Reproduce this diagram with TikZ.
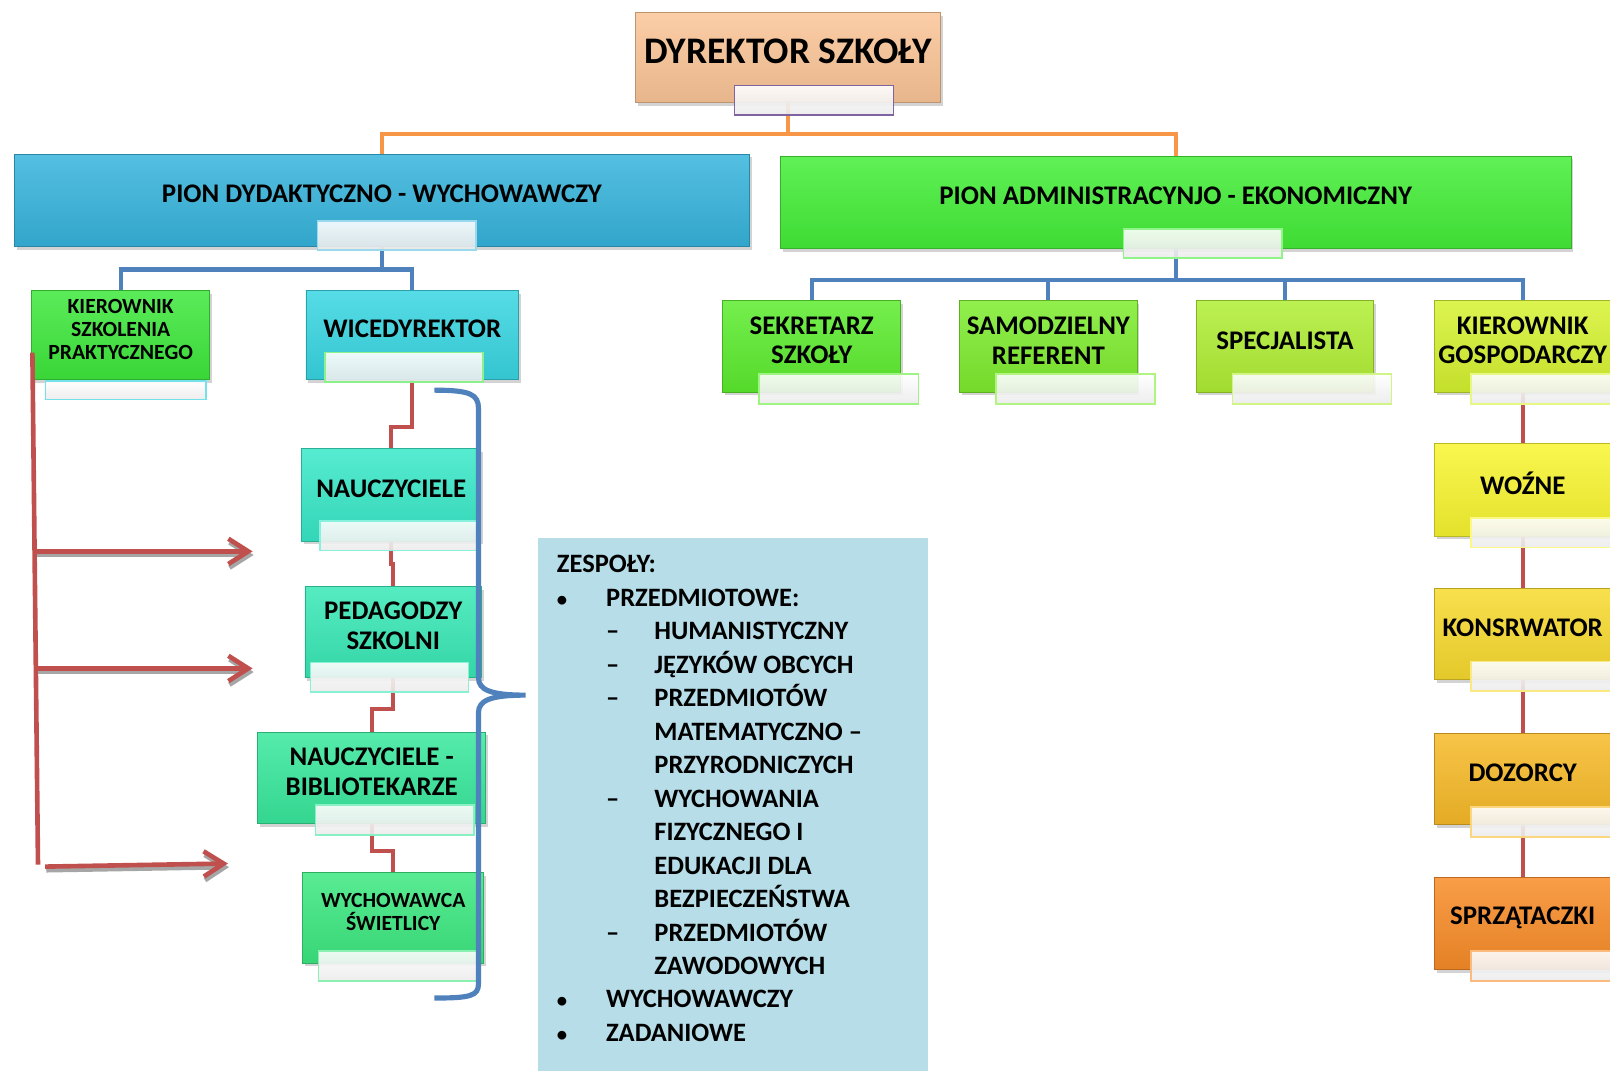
\documentclass[tikz,border=0pt]{standalone}
\usepackage{fontspec}
\setmainfont{Carlito}
\usetikzlibrary{positioning,shadows,backgrounds,arrows.meta}

\newlength\unitpx
\setlength\unitpx{0.02cm}

\definecolor{corange}{HTML}{F79646}
\definecolor{cblue}{HTML}{4F81BD}
\definecolor{cred}{HTML}{C0504D}
\definecolor{czesp}{HTML}{B7DDE8}
\definecolor{cpurple}{HTML}{8064A2}
\definecolor{cdyr}{HTML}{FBC597}
\definecolor{cpdw}{HTML}{36B4DC}
\definecolor{cpae}{HTML}{44EE38}
\definecolor{ckszk}{HTML}{3EE83C}
\definecolor{cwiced}{HTML}{38D6E2}
\definecolor{cnauc}{HTML}{38E8C8}
\definecolor{cpeda}{HTML}{38E8B6}
\definecolor{cbibl}{HTML}{38E89C}
\definecolor{cwych}{HTML}{3CE880}
\definecolor{csekr}{HTML}{5CEC2E}
\definecolor{csamo}{HTML}{7EEC2E}
\definecolor{cspec}{HTML}{B0EE34}
\definecolor{ckgos}{HTML}{D6F230}
\definecolor{cwozne}{HTML}{F8F530}
\definecolor{ckons}{HTML}{F7DA2E}
\definecolor{cdozo}{HTML}{F7BA28}
\definecolor{csprz}{HTML}{F88C28}

\begin{document}
\begin{tikzpicture}[x=0.02cm, y=-0.02cm,
    box/.style={rectangle, draw=#1!75!black, line width=0.5pt,
      top color=#1!85!white, bottom color=#1!92!black,
      drop shadow={opacity=0.35, shadow xshift=1.2pt, shadow yshift=-1.8pt},
      minimum width=173\unitpx, minimum height=89\unitpx, inner sep=0pt},
    tag/.style={rectangle, draw=#1, line width=0.9pt,
      top color=white, bottom color=black!8, fill opacity=0.9,
      minimum width=155\unitpx, minimum height=29\unitpx,
      anchor=north west, inner sep=0pt},
    lbl/.style={font=\bfseries\fontsize{14.9}{16.4}\selectfont,
      align=center, yshift=3.4pt},
    lblbig/.style={lbl, font=\bfseries\fontsize{20.8}{22}\selectfont},
    lblsmall/.style={lbl, font=\bfseries\fontsize{12}{12.8}\selectfont},
    link/.style={line width=4\unitpx},
    barb/.style={-{Straight Barb[length=11pt, width=14pt, line width=2.6pt]}},
  ]
  \useasboundingbox (0,0) rectangle (1568,1043);
  \clip (0,0) rectangle (1568,1043);

  % head
  \node[box=cdyr, minimum width=297\unitpx, minimum height=88\unitpx,
    label={[lblbig]center:DYREKTOR SZKOŁY}] (dyr) at (767.5,56) {};
  \node[tag=cpurple] (dyr-t) at ([shift={(96,-18)}]dyr.south west) {};

  % two divisions
  \node[box=cpdw, minimum width=716\unitpx, minimum height=90\unitpx,
    label={[lbl]center:PION DYDAKTYCZNO - WYCHOWAWCZY}] (pdw) at (372,195) {};
  \node[tag=cpdw!50!white, minimum width=154\unitpx, minimum height=28\unitpx]
    (pdw-t) at ([shift={(295,-26)}]pdw.south west) {};
  \node[box=cpae, minimum width=770\unitpx, minimum height=90\unitpx,
    label={[lbl]center:PION ADMINISTRACYNJO - EKONOMICZNY}] (pae) at (1145,197) {};
  \node[tag=cpae!60!white, minimum width=154\unitpx, minimum height=28\unitpx]
    (pae-t) at ([shift={(334,-20)}]pae.south west) {};

  % left division
  \node[box=ckszk, minimum height=87\unitpx,
    label={[lblsmall]center:KIEROWNIK\\SZKOLENIA\\PRAKTYCZNEGO}] (kszk) at (117.5,326.5) {};
  \node[tag=cwiced!70!white, minimum width=156\unitpx, minimum height=18\unitpx]
    (kszk-t) at ([shift={(13,0)}]kszk.south west) {};
  \node[box=cwiced, minimum width=207\unitpx, minimum height=87\unitpx,
    label={[lbl]center:WICEDYREKTOR}] (wiced) at (401.5,326.5) {};
  \node[tag=ckszk!60!white, minimum width=154\unitpx]
    (wiced-t) at ([shift={(18,-28)}]wiced.south west) {};

  \node[box=cnauc, minimum width=174\unitpx, minimum height=90\unitpx,
    label={[lbl]center:NAUCZYCIELE}] (nauc) at (381,482) {};
  \node[tag=cnauc!60!white, minimum width=154\unitpx]
    (nauc-t) at ([shift={(17,-21)}]nauc.south west) {};
  \node[box=cpeda, minimum width=172\unitpx,
    label={[lbl]center:PEDAGODZY\\SZKOLNI}] (peda) at (383,615.5) {};
  \node[tag=cpeda!60!white, minimum width=154\unitpx]
    (peda-t) at ([shift={(5,-16)}]peda.south west) {};
  \node[box=cbibl, minimum width=222\unitpx,
    label={[lbl]center:NAUCZYCIELE -\\BIBLIOTEKARZE}] (bibl) at (362,757.5) {};
  \node[tag=cbibl!60!white, minimum width=154\unitpx]
    (bibl-t) at ([shift={(56,-19)}]bibl.south west) {};
  \node[box=cwych, minimum width=176\unitpx, minimum height=88\unitpx,
    label={[lblsmall]center:WYCHOWAWCA\\ŚWIETLICY}] (wych) at (383,894) {};
  \node[tag=cwych!60!white]
    (wych-t) at ([shift={(15,-13)}]wych.south west) {};

  % right division
  \node[box=csekr, label={[lbl]center:SEKRETARZ\\SZKOŁY}] (sekr) at (790.5,337.5) {};
  \node[tag=csekr!60!white] (sekr-t) at ([shift={(35,-19)}]sekr.south west) {};
  \node[box=csamo, label={[lbl]center:SAMODZIELNY\\REFERENT}] (samo) at (1021,337.5) {};
  \node[tag=csamo!60!white] (samo-t) at ([shift={(35,-19)}]samo.south west) {};
  \node[box=cspec, label={[lbl]center:SPECJALISTA}] (spec) at (1251.5,337.5) {};
  \node[tag=cspec!60!white] (spec-t) at ([shift={(35,-19)}]spec.south west) {};
  \node[box=ckgos, minimum width=172\unitpx,
    label={[lbl]center:KIEROWNIK\\GOSPODARCZY}] (kgos) at (1483,337.5) {};
  \node[tag=ckgos!60!white] (kgos-t) at ([shift={(35,-19)}]kgos.south west) {};

  \node[box=cwozne, minimum width=172\unitpx, minimum height=90\unitpx,
    label={[lbl]center:WOŹNE}] (wozne) at (1483,477) {};
  \node[tag=cwozne!60!white] (wozne-t) at ([shift={(35,-19)}]wozne.south west) {};
  \node[box=ckons, minimum width=172\unitpx,
    label={[lbl]center:KONSRWATOR}] (kons) at (1483,617.5) {};
  \node[tag=ckons!60!white] (kons-t) at ([shift={(35,-19)}]kons.south west) {};
  \node[box=cdozo, minimum width=172\unitpx,
    label={[lbl]center:DOZORCY}] (dozo) at (1483,758.5) {};
  \node[tag=cdozo!60!white] (dozo-t) at ([shift={(35,-18)}]dozo.south west) {};
  \node[box=csprz, minimum width=172\unitpx,
    label={[lbl]center:SPRZĄTACZKI}] (sprz) at (1483,899.5) {};
  \node[tag=csprz!60!white] (sprz-t) at ([shift={(35,-19)}]sprz.south west) {};

  % teams
  \node[rectangle, fill=czesp, anchor=north west, inner sep=0pt,
    minimum width=379\unitpx, minimum height=530\unitpx] (zesp) at (524,524) {};
  \node[anchor=base west, inner sep=0pt,
    font=\bfseries\fontsize{14.7}{18.55}\selectfont] (zesp-l)
    at ([shift={(18,34)}]zesp.north west) {%
    \begin{tabular}[t]{@{}p{48\unitpx}@{}p{47\unitpx}@{}l@{}}
      \multicolumn{3}{@{}l@{}}{ZESPOŁY:}\\
      \scalebox{0.78}{•} & \multicolumn{2}{@{}l@{}}{PRZEDMIOTOWE:}\\
        & – & HUMANISTYCZNY\\
        & – & JĘZYKÓW OBCYCH\\
        & – & PRZEDMIOTÓW\\
        &   & MATEMATYCZNO –\\
        &   & PRZYRODNICZYCH\\
        & – & WYCHOWANIA\\
        &   & FIZYCZNEGO I\\
        &   & EDUKACJI DLA\\
        &   & BEZPIECZEŃSTWA\\
        & – & PRZEDMIOTÓW\\
        &   & ZAWODOWYCH\\
      \scalebox{0.78}{•} & \multicolumn{2}{@{}l@{}}{WYCHOWAWCZY}\\
      \scalebox{0.78}{•} & \multicolumn{2}{@{}l@{}}{ZADANIOWE}
    \end{tabular}};

  % connectors
  \begin{scope}[on background layer]
    \draw[link, corange] (dyr.south) -- ++(0,30) -| (pdw.north);
    \draw[link, corange] (dyr.south) -- ++(0,30) -| (pae.north);
    \draw[link, cblue] (pdw.south) -- ++(0,22) -| (kszk.north);
    \draw[link, cblue] (pdw.south) -- ++(0,22) -| (wiced.north);
    \draw[link, cblue] (pae.south) -- ++(0,30) -| (sekr.north);
    \draw[link, cblue] (pae.south) -- ++(0,30) -| (samo.north);
    \draw[link, cblue] (pae.south) -- ++(0,30) -| (spec.north);
    \draw[link, cblue] (pae.south) -- ++(0,30) -| (kgos.north);
    \draw[link, cred] (wiced.south) -- ++(0,45) -| (nauc.north);
    \draw[link, cred] (nauc.south) -- ++(0,22) -| (peda.north);
    \draw[link, cred] (peda.south) -- ++(0,30) -| (bibl.north);
    \draw[link, cred] (bibl.south) -- ++(0,26) -| (wych.north);
    \draw[link, cred] (kgos.south) -- (wozne.north);
    \draw[link, cred] (wozne.south) -- (kons.north);
    \draw[link, cred] (kons.south) -- (dozo.north);
    \draw[link, cred] (dozo.south) -- (sprz.north);
  \end{scope}

  % practical training lines
  \coordinate (rtop) at ([shift={(1,17)}]kszk.west);
  \coordinate (rbot) at (37,842);
  \coordinate (a1) at (35,537);  \coordinate (e1) at (246,537);
  \coordinate (a2) at (36,651);  \coordinate (e2) at (246,651);
  \coordinate (a3) at (44,844);  \coordinate (e3) at (222,841);
  \draw[line width=4.5\unitpx, cred] (rtop) -- (rbot);
  \foreach \s/\e in {a1/e1, a2/e2, a3/e3} {
    \begin{scope}[transform canvas={xshift=0.6pt, yshift=-2pt}]
      \draw[line width=4.5\unitpx, black!35, barb] (\s) -- (\e);
    \end{scope}
    \draw[line width=4.5\unitpx, cred, barb] (\s) -- (\e);
  }

  % brace
  \coordinate (brtip) at (512,677);
  \draw[link, cblue, line width=5\unitpx]
    (423,380) .. controls (458,380) and (466,384) .. (466,398)
    -- (466,660) .. controls (466,672) and (478,677) .. (brtip)
    .. controls (478,677) and (466,682) .. (466,694)
    -- (466,958) .. controls (466,970) and (458,972) .. (423,972);
\end{tikzpicture}
\end{document}
